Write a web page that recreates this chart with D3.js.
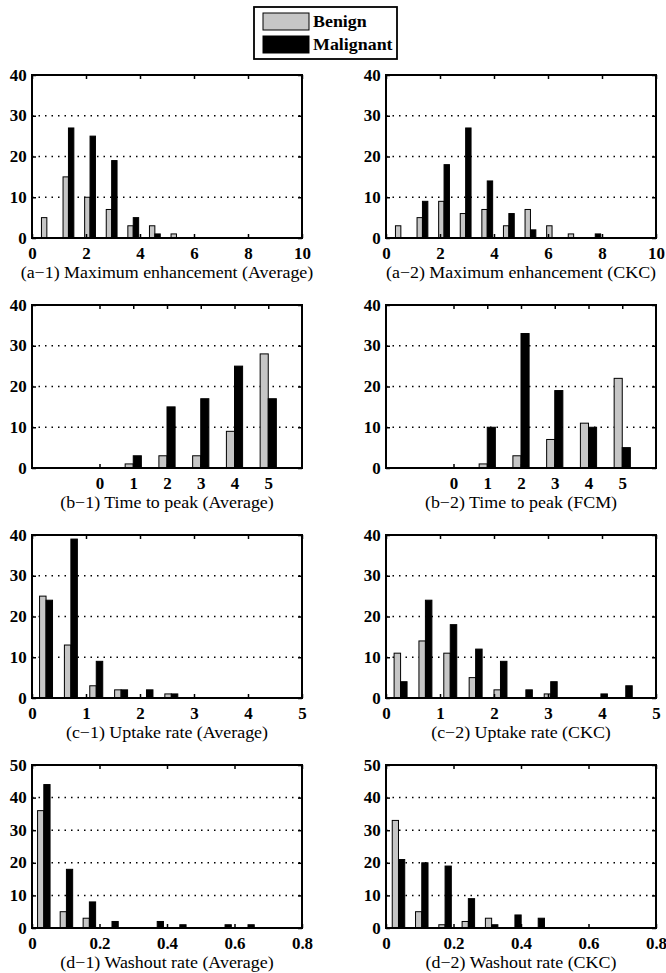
<!DOCTYPE html>
<html><head><meta charset="utf-8">
<script src="https://cdn.jsdelivr.net/npm/d3@7"></script>
<style>body{margin:0;background:#fff}svg{display:block}</style>
</head><body>
<script>
// ---- data ----
const seriesNames = ["Benign", "Malignant"];

const a1Centers = [0.55, 1.35, 2.15, 2.95, 3.75, 4.55, 5.35];
const a1Benign = [5, 15, 10, 7, 3, 3, 1];
const a1Malignant = [0, 27, 25, 19, 5, 1, 0];

const a2Centers = [0.55, 1.35, 2.15, 2.95, 3.75, 4.55, 5.35, 6.15, 6.95, 7.75];
const a2Benign = [3, 5, 9, 6, 7, 3, 7, 3, 1, 0];
const a2Malignant = [0, 9, 18, 27, 14, 6, 2, 0, 0, 1];

const bCategories = [0, 1, 2, 3, 4, 5];
const b1Benign = [0, 1, 3, 3, 9, 28];
const b1Malignant = [0, 3, 15, 17, 25, 17];
const b2Benign = [0, 1, 3, 7, 11, 22];
const b2Malignant = [0, 10, 33, 19, 10, 5];

const c1Centers = [0.26, 0.72, 1.19, 1.65, 2.12, 2.58];
const c1Benign = [25, 13, 3, 2, 0, 1];
const c1Malignant = [24, 39, 9, 2, 2, 1];

const c2Centers = [0.27, 0.73, 1.19, 1.66, 2.12, 2.59, 3.05, 3.51, 3.98, 4.44];
const c2Benign = [11, 14, 11, 5, 2, 0, 1, 0, 0, 0];
const c2Malignant = [4, 24, 18, 12, 9, 2, 4, 0, 1, 3];

const d1Centers = [0.035, 0.102, 0.17, 0.237, 0.304, 0.371, 0.438, 0.505, 0.572, 0.64];
const d1Benign = [36, 5, 3, 0, 0, 0, 0, 0, 0, 0];
const d1Malignant = [44, 18, 8, 2, 0, 2, 1, 0, 1, 1];

const d2Centers = [0.037, 0.106, 0.175, 0.244, 0.313, 0.382, 0.451];
const d2Benign = [33, 5, 1, 2, 3, 0, 0];
const d2Malignant = [21, 20, 19, 9, 1, 4, 3];

const aXTicks = [0, 2, 4, 6, 8, 10];
const bXTicks = [0, 1, 2, 3, 4, 5];
const cXTicks = [0, 1, 2, 3, 4, 5];
const dXTicks = [0, 0.2, 0.4, 0.6, 0.8];
const y40Ticks = [0, 10, 20, 30, 40];
const y50Ticks = [0, 10, 20, 30, 40, 50];

const captions = [
  "(a\u22121) Maximum enhancement (Average)",
  "(a\u22122) Maximum enhancement (CKC)",
  "(b\u22121) Time to peak (Average)",
  "(b\u22122) Time to peak (FCM)",
  "(c\u22121) Uptake rate (Average)",
  "(c\u22122) Uptake rate (CKC)",
  "(d\u22121) Washout rate (Average)",
  "(d\u22122) Washout rate (CKC)"
];

// ---- layout ----
const W = 666, H = 973;
const colLeft = [32, 386];
const rowTop = [75, 305, 535, 765];
const pw = 270, ph = 163;
const benignColor = "#c6c6c6";
const serif = "'Liberation Serif','DejaVu Serif',serif";
const SX = 1.12; // horizontal stretch of the reference text

const panels = [
  {row:0,col:0,centers:a1Centers,ben:a1Benign,mal:a1Malignant,xd:[0,10],xt:aXTicks,yd:[0,40],yt:y40Ticks,bw:0.2,fmt:d=>d},
  {row:0,col:1,centers:a2Centers,ben:a2Benign,mal:a2Malignant,xd:[0,10],xt:aXTicks,yd:[0,40],yt:y40Ticks,bw:0.2,fmt:d=>d},
  {row:1,col:0,centers:bCategories,ben:b1Benign,mal:b1Malignant,xd:[-2,6],xt:bXTicks,yd:[0,40],yt:y40Ticks,bw:0.24,fmt:d=>d},
  {row:1,col:1,centers:bCategories,ben:b2Benign,mal:b2Malignant,xd:[-2,6],xt:bXTicks,yd:[0,40],yt:y40Ticks,bw:0.24,fmt:d=>d},
  {row:2,col:0,centers:c1Centers,ben:c1Benign,mal:c1Malignant,xd:[0,5],xt:cXTicks,yd:[0,40],yt:y40Ticks,bw:0.12,fmt:d=>d},
  {row:2,col:1,centers:c2Centers,ben:c2Benign,mal:c2Malignant,xd:[0,5],xt:cXTicks,yd:[0,40],yt:y40Ticks,bw:0.12,fmt:d=>d},
  {row:3,col:0,centers:d1Centers,ben:d1Benign,mal:d1Malignant,xd:[0,0.8],xt:dXTicks,yd:[0,50],yt:y50Ticks,bw:0.0185,fmt:d=>String(d)},
  {row:3,col:1,centers:d2Centers,ben:d2Benign,mal:d2Malignant,xd:[0,0.8],xt:dXTicks,yd:[0,50],yt:y50Ticks,bw:0.0185,fmt:d=>String(d)}
];

const svg = d3.select("body").append("svg").attr("width", W).attr("height", H);

panels.forEach((p, i) => {
  const left = colLeft[p.col], top = rowTop[p.row];
  const x = d3.scaleLinear().domain(p.xd).range([left, left + pw]);
  const y = d3.scaleLinear().domain(p.yd).range([top + ph, top]);
  const g = svg.append("g");

  // dotted grid
  g.selectAll("line.grid").data(p.yt.filter(t => t > p.yd[0] && t < p.yd[1])).join("line")
    .attr("x1", left).attr("x2", left + pw)
    .attr("y1", d => y(d)).attr("y2", d => y(d))
    .attr("stroke", "#000").attr("stroke-width", 1.5).attr("stroke-dasharray", "1.5,5");

  // bars
  const rows = p.centers.map((c, k) => ({c, b: p.ben[k], m: p.mal[k]}));
  g.selectAll("rect.ben").data(rows.filter(r => r.b > 0)).join("rect")
    .attr("x", d => x(d.c - p.bw)).attr("width", d => x(d.c) - x(d.c - p.bw))
    .attr("y", d => y(d.b)).attr("height", d => y(0) - y(d.b))
    .attr("fill", benignColor).attr("stroke", "#000").attr("stroke-width", 1);
  g.selectAll("rect.mal").data(rows.filter(r => r.m > 0)).join("rect")
    .attr("x", d => x(d.c)).attr("width", d => x(d.c + p.bw) - x(d.c))
    .attr("y", d => y(d.m)).attr("height", d => y(0) - y(d.m))
    .attr("fill", "#000").attr("stroke", "#000").attr("stroke-width", 1);

  // axes with inward ticks
  const axB = d3.axisBottom(x).tickValues(p.xt).tickSize(-4).tickFormat(p.fmt).tickPadding(10);
  const axT = d3.axisTop(x).tickValues(p.xt).tickSize(-4).tickFormat("");
  const axL = d3.axisLeft(y).tickValues(p.yt).tickSize(-4).tickFormat(d => d).tickPadding(5);
  const axR = d3.axisRight(y).tickValues(p.yt).tickSize(-4).tickFormat("");
  [[axB, `translate(0,${top + ph})`], [axT, `translate(0,${top})`], [axL, `translate(${left},0)`], [axR, `translate(${left + pw},0)`]]
    .forEach(([ax, tr]) => {
      const a = g.append("g").attr("transform", tr).call(ax);
      a.select(".domain").remove();
      a.selectAll(".tick line").attr("stroke", "#000").attr("stroke-width", 1.5);
      a.selectAll("text").attr("font-family", serif).attr("font-weight", "bold")
        .attr("font-size", 16).attr("fill", "#000").attr("transform", `scale(1.06,1)`);
    });

  // box
  g.append("rect").attr("x", left).attr("y", top).attr("width", pw).attr("height", ph)
    .attr("fill", "none").attr("stroke", "#000").attr("stroke-width", 2);

  // caption
  g.append("text").attr("transform", `translate(${left + pw / 2},${top + ph + 40}) scale(${SX},1)`)
    .attr("text-anchor", "middle").attr("font-family", serif).attr("font-size", 16)
    .attr("fill", "#000").text(captions[i]);
});

// legend
const lg = svg.append("g");
lg.append("rect").attr("x", 254).attr("y", 7).attr("width", 143).attr("height", 52)
  .attr("fill", "#fff").attr("stroke", "#000").attr("stroke-width", 1.8);
seriesNames.forEach((s, k) => {
  lg.append("rect").attr("x", 263).attr("y", 13 + k * 23).attr("width", 46).attr("height", 17)
    .attr("fill", k === 0 ? benignColor : "#000").attr("stroke", "#000").attr("stroke-width", 1);
  lg.append("text").attr("transform", `translate(313,${27 + k * 23}) scale(${SX},1)`).attr("font-family", serif)
    .attr("font-weight", "bold").attr("font-size", 16).attr("fill", "#000").text(s);
});
</script>
</body></html>
